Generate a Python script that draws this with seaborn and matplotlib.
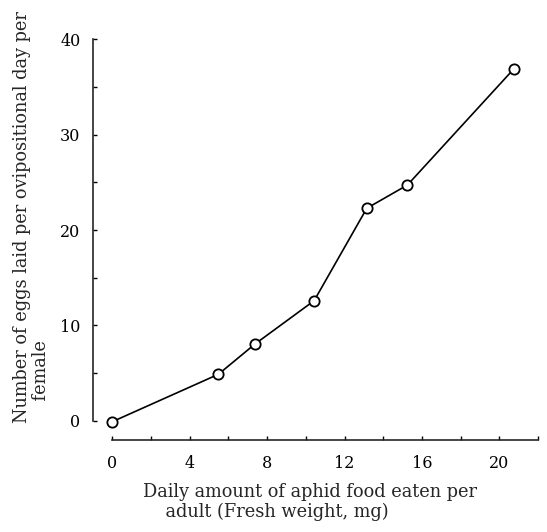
import matplotlib
matplotlib.use("Agg")
import matplotlib.pyplot as plt
import seaborn as sns
import pandas as pd
from matplotlib.ticker import MultipleLocator

# Data
food_mg = [0.0, 5.48, 7.37, 10.43, 13.15, 15.25, 20.76]
eggs_per_day = [-0.1, 4.87, 8.04, 12.59, 22.28, 24.72, 36.92]
x_major_ticks = [0, 4, 8, 12, 16, 20]
y_major_ticks = [0, 10, 20, 30, 40]

df = pd.DataFrame({"food": food_mg, "eggs": eggs_per_day})

sns.set_style("ticks")
plt.rcParams["font.family"] = ["DejaVu Serif"]

fig = plt.figure(figsize=(5.47, 5.32), dpi=100)
ax = fig.add_axes([0.170, 0.1733, 0.8136, 0.7528])

sns.lineplot(data=df, x="food", y="eggs", ax=ax, color="black", linewidth=1.2,
             marker="o", markersize=7.4, markerfacecolor="white",
             markeredgecolor="black", markeredgewidth=1.3)

ax.set_xlim(-1, 22)
ax.set_ylim(-2, 40)
ax.spines["left"].set_bounds(0, 40)
ax.spines["bottom"].set_bounds(0, 22)
for s in ("top", "right"):
    ax.spines[s].set_visible(False)
for s in ("left", "bottom"):
    ax.spines[s].set_linewidth(1.2)

ax.set_xticks(x_major_ticks)
ax.set_yticks(y_major_ticks)
ax.xaxis.set_minor_locator(MultipleLocator(2))
ax.yaxis.set_minor_locator(MultipleLocator(5))
ax.tick_params(axis="both", which="both", direction="in", length=3, width=1.0,
               labelsize=11.5, colors="black")
ax.tick_params(axis="x", which="major", pad=11)
ax.tick_params(axis="y", which="major", pad=9)

ax.set_xlabel("Daily amount of aphid food eaten per\n    adult (Fresh weight, mg)",
              fontsize=12.8, multialignment="left", linespacing=1.1)
ax.xaxis.label.set_va("center")
ax.xaxis.set_label_coords(0.4877, -0.1546)

ax.set_ylabel("Number of eggs laid per ovipositional day per\n    female",
              fontsize=12.8, multialignment="left", linespacing=1.1)
ax.yaxis.label.set_va("center")
ax.yaxis.set_label_coords(-0.1388, 0.555)

fig.savefig("out.png", dpi=100)
